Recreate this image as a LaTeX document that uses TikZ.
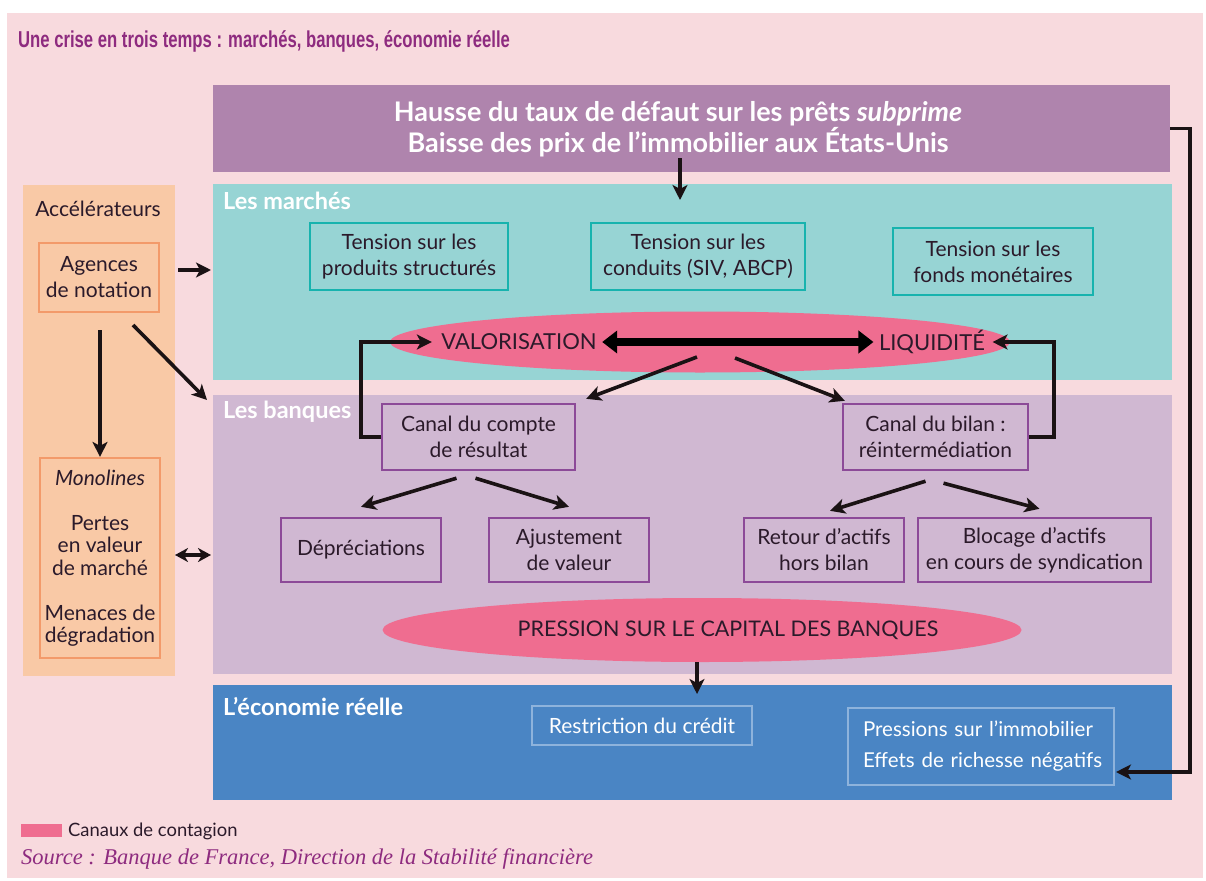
\documentclass[tikz,border=0pt]{standalone}
\usepackage{fontspec}
\setmainfont{Lato}
\newfontfamily\titlefont{Liberation Sans}
\newfontfamily\srcfont{Liberation Serif}
\usetikzlibrary{arrows.meta,calc,shapes.geometric}
\definecolor{bgpink}{HTML}{F8DADE}
\definecolor{titlepurple}{HTML}{8E2B7F}
\definecolor{toppurple}{HTML}{AF84AD}
\definecolor{tealfill}{HTML}{97D4D4}
\definecolor{tealline}{HTML}{17B3AE}
\definecolor{lavfill}{HTML}{D0B8D2}
\definecolor{purpline}{HTML}{8C4A98}
\definecolor{bluefill}{HTML}{4A85C4}
\definecolor{blueline}{HTML}{8EB3DC}
\definecolor{orangefill}{HTML}{F9C9A6}
\definecolor{orangeline}{HTML}{F39A6A}
\definecolor{ellpink}{HTML}{EF6D90}
\definecolor{darktext}{HTML}{2B1A2A}
\definecolor{arrowcol}{HTML}{1A1214}
\tikzset{
  body/.style={font=\fontsize{21}{26}\selectfont, text=darktext, align=center},
  panel/.style={inner sep=0pt, draw=none},
  tbox/.style={body, draw=tealline, line width=2.2pt, inner sep=0pt},
  pbox/.style={body, draw=purpline, line width=2.4pt, inner sep=0pt},
  obox/.style={body, draw=orangeline, line width=2.2pt, inner sep=0pt},
  ebox/.style={body, text=white, draw=blueline, line width=1.6pt, inner sep=0pt},
  plabel/.style={font=\fontsize{23.5}{26}\selectfont\bfseries, text=white, anchor=base west, inner sep=0pt},
  elltext/.style={font=\fontsize{22}{26}\selectfont, text=darktext},
  ell/.style={ellipse, fill=ellpink, inner sep=0pt},
  arr/.style={draw=arrowcol, line width=3.6pt, -{Stealth[length=15pt,width=15pt,inset=4pt]}},
  darr/.style={draw=arrowcol, line width=3.6pt, {Stealth[length=13pt,width=14pt,inset=4pt]}-{Stealth[length=13pt,width=14pt,inset=4pt]}},
  bigarr/.style={draw=black, line width=8pt, {Triangle[length=15pt,width=22pt]}-{Triangle[length=15pt,width=22pt]}},
  loop/.style={draw=arrowcol, line width=3.6pt, -{Stealth[length=15pt,width=15pt,inset=4pt]}}
}
\begin{document}
\begin{tikzpicture}[x=1pt,y=-1pt]
\useasboundingbox (0,0) rectangle (1206,880);
\fill[white] (0,0) rectangle (1206,880);
\fill[bgpink] (7,13) rectangle (1203,878);

% title
\node[anchor=base west, inner sep=0pt, text=titlepurple] (title) at (18,48)
  {\scalebox{0.725}[1]{\titlefont\bfseries\fontsize{23}{26}\selectfont Une crise en trois temps : marchés, banques, économie réelle}};

% panels
\node[panel, fill=toppurple, minimum width=957pt, minimum height=87pt] (topbox) at (691.5,128.5) {};
\node[font=\fontsize{27}{31}\selectfont\bfseries, text=white, align=center] (toptxt) at (678,129)
  {Hausse du taux de défaut sur les prêts \textit{subprime}\\Baisse des prix de l’immobilier aux États-Unis};
\node[panel, fill=tealfill, minimum width=959pt, minimum height=196pt] (marches) at (692.5,282) {};
\node[panel, fill=lavfill, minimum width=959pt, minimum height=279pt] (banques) at (692.5,534.5) {};
\node[panel, fill=bluefill, minimum width=959pt, minimum height=115pt] (eco) at (692.5,742.5) {};
\node[panel, fill=orangefill, minimum width=152pt, minimum height=491pt] (accel) at (99,430.5) {};

\node[plabel] (lm) at (223,209) {Les marchés};
\node[plabel] (lb) at (223,418) {Les banques};
\node[plabel] (le) at (223,715) {L’économie réelle};
\node[body, anchor=base] (acct) at (98,216) {Accélérateurs};

% accelerators
\node[obox, minimum width=120pt, minimum height=69pt] (ag) at (99,277.5) {Agences\\de notation};
\node[obox, minimum width=120pt, minimum height=200pt, font=\fontsize{21}{22.5}\selectfont] (mono) at (100,558)
  {\textit{Monolines}\\[22.5pt]Pertes\\en valeur\\de marché\\[22.5pt]Menaces de\\dégradation};

% marchés boxes
\node[tbox, minimum width=198pt, minimum height=67pt] (t1) at (409,256.5) {Tension sur les\\produits structurés};
\node[tbox, minimum width=214pt, minimum height=67pt] (t2) at (698,256.5) {Tension sur les\\conduits (SIV, ABCP)};
\node[tbox, minimum width=200pt, minimum height=67pt] (t3) at (993,261.5) {Tension sur les\\fonds monétaires};

% ellipse 1
\node[ell, minimum width=620pt, minimum height=61pt] (e1) at (700,342) {};
\node[elltext] (valo) at (519,342) {VALORISATION};
\node[elltext] (liq) at (932,342) {LIQUIDITÉ};

% banques boxes
\node[pbox, minimum width=193pt, minimum height=66pt] (cc) at (478.5,437) {Canal du compte\\de résultat};
\node[pbox, minimum width=185pt, minimum height=66pt] (cb) at (935.5,437) {Canal du bilan :\\réintermédiation};
\node[pbox, minimum width=160pt, minimum height=64pt] (dep) at (361,550) {Dépréciations};
\node[pbox, minimum width=160pt, minimum height=64pt] (aju) at (569,550) {Ajustement\\de valeur};
\node[pbox, minimum width=160pt, minimum height=64pt] (ret) at (824,550) {Retour d’actifs\\hors bilan};
\node[pbox, minimum width=233pt, minimum height=64pt] (blo) at (1034.5,550) {Blocage d’actifs\\en cours de syndication};

% ellipse 2
\node[ell, minimum width=639pt, minimum height=64pt] (e2) at (702,630) {};
\node[elltext, font=\fontsize{21.5}{26}\selectfont] (pres) at (728,630) {PRESSION SUR LE CAPITAL DES BANQUES};

% economie boxes
\node[ebox, minimum width=220pt, minimum height=39pt] (rc) at (642,725.5) {Restriction du crédit};
\node[ebox, minimum width=266pt, minimum height=77pt, align=left, text width=252pt, inner xsep=7pt, font=\fontsize{20.5}{31}\selectfont] (pi) at (981,746.5)
  {\hspace*{8pt}Pressions sur l’immobilier\\\hspace*{8pt}Effets de richesse négatifs};

% legend
\node[fill=ellpink, minimum width=41pt, minimum height=13pt, inner sep=0pt] (leg) at (41.5,830.5) {};
\node[anchor=base west, inner sep=0pt, text=darktext, font=\fontsize{18.4}{20}\selectfont] (legt) at (68,836) {Canaux de contagion};
\node[anchor=base west, inner sep=0pt, text=titlepurple] (src) at (21,864)
  {\srcfont\itshape\fontsize{22.5}{24}\selectfont Source : Banque de France, Direction de la Stabilité financière};

% coordinates
\coordinate (a1s) at (680,158);
\coordinate (a1e) at (680,200);
\coordinate (bend) at (1190,128.5);
\coordinate (pin) at (1116,772);
\coordinate (ags) at (178,270);
\coordinate (age) at (211,270);
\coordinate (agds) at (133,325);
\coordinate (agde) at (207,400);
\coordinate (agvs) at (100,330);
\coordinate (monos) at (175,555);
\coordinate (monoe) at (211,555);
\coordinate (e1a) at (697,357);
\coordinate (e1b) at (735,358);
\coordinate (e2s) at (697,662);
\coordinate (e2e) at (697,694);

% arrows
\draw[arr] (a1s) -- (a1e);
\draw[arr] (topbox.east) -- (bend) |- (pin);
\draw[arr] (ags) -- (age);
\draw[arr] (agds) -- (agde);
\draw[arr] (agvs) -- (mono.north);
\draw[darr] (monos) -- (monoe);
\draw[bigarr] ($(valo.east)+(2,0)$) -- ($(liq.west)+(-2,0)$);
\draw[arr] (e1a) -- ($(cc.north east)+(10,-4)$);
\draw[arr] (e1b) -- ($(cb.north west)+(3,-2)$);
\draw[loop] (cc.west) -- ++(-20,0) |- ($(valo.west)+(-6,0)$);
\draw[loop] (cb.east) -- ++(25,0) |- ($(liq.east)+(4,0)$);
\draw[arr] ($(cc.south)+(-22,7)$) -- ($(dep.north)+(0,-10)$);
\draw[arr] ($(cc.south)+(-3,7)$) -- ($(aju.north)+(0,-10)$);
\draw[arr] ($(cb.south)+(-10,10)$) -- ($(ret.north)+(6,-6)$);
\draw[arr] ($(cb.south)+(8,12)$) -- ($(blo.north)+(5,-8)$);
\draw[arr] (e2s) -- (e2e);
\end{tikzpicture}
\end{document}
